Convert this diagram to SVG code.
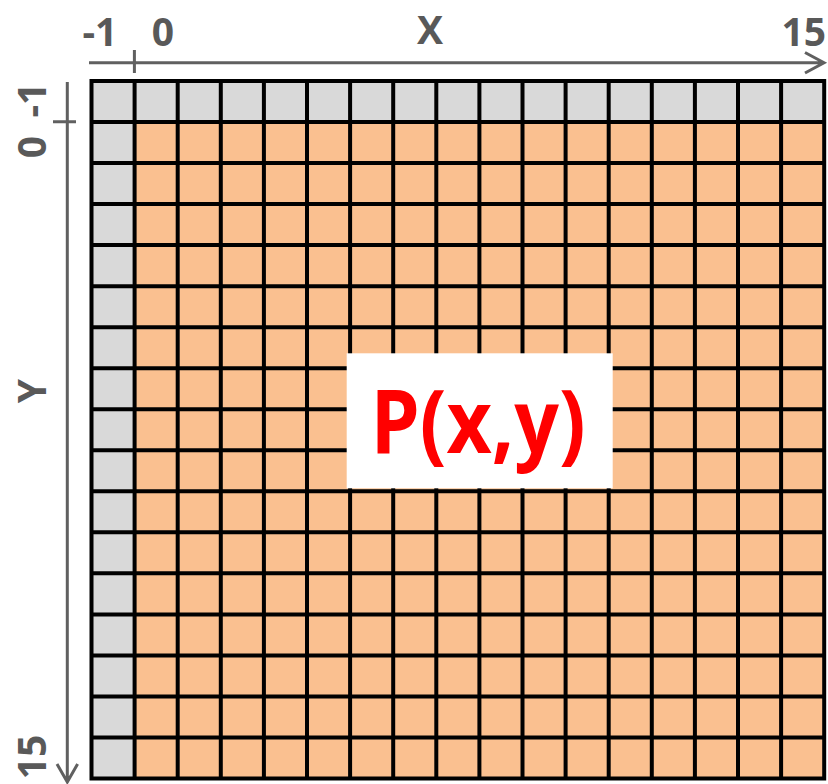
<svg xmlns="http://www.w3.org/2000/svg" width="828" height="784" viewBox="0 0 828 784">
<style>
.ax{stroke:#606060;stroke-width:3;fill:none}
.lbl{font-family:"Open Sans","Liberation Sans",sans-serif;font-weight:bold;font-size:39px;fill:#595959}
.grid{stroke:#000;stroke-width:4;fill:none;stroke-linecap:square}
</style>
<rect width="828" height="784" fill="#fff"/>
<g id="grid">
<rect x="91.5" y="81" width="732.7" height="697.5" fill="#d9d9d9"/>
<rect x="134.6" y="122.03" width="689.6" height="656.48" fill="#fac090"/>
<path class="grid" d="M91.5 81V778.5M134.6 81V778.5M177.7 81V778.5M220.8 81V778.5M263.9 81V778.5M307 81V778.5M350.1 81V778.5M393.2 81V778.5M436.3 81V778.5M479.4 81V778.5M522.5 81V778.5M565.6 81V778.5M608.7 81V778.5M651.8 81V778.5M694.9 81V778.5M738 81V778.5M781.1 81V778.5M824.2 81V778.5M91.5 81H824.2M91.5 122.03H824.2M91.5 163.06H824.2M91.5 204.09H824.2M91.5 245.12H824.2M91.5 286.15H824.2M91.5 327.18H824.2M91.5 368.21H824.2M91.5 409.24H824.2M91.5 450.27H824.2M91.5 491.3H824.2M91.5 532.33H824.2M91.5 573.36H824.2M91.5 614.39H824.2M91.5 655.42H824.2M91.5 696.45H824.2M91.5 737.48H824.2M91.5 778.5H824.2"/>
</g>
<g id="connectors">
<path class="ax" d="M89 62.7H824M805 52.5L824 62.7L805 73M134.4 50V73"/>
<path class="ax" d="M67.3 82V782M57 764L67.3 782L77.6 764M53 121.7H76"/>
</g>
<g id="x-labels">
<text class="lbl" x="100" y="45.5" text-anchor="middle" textLength="35" lengthAdjust="spacingAndGlyphs">-1</text>
<text class="lbl" x="163" y="45.5" text-anchor="middle">0</text>
<text class="lbl" x="430" y="43.5" text-anchor="middle">X</text>
<text class="lbl" x="826" y="45.5" text-anchor="end">15</text>
</g>
<g id="y-labels">
<text class="lbl" transform="translate(45.5 100) rotate(-90)" text-anchor="middle" textLength="35" lengthAdjust="spacingAndGlyphs">-1</text>
<text class="lbl" transform="translate(45.5 147) rotate(-90)" text-anchor="middle">0</text>
<text class="lbl" transform="translate(45.5 391) rotate(-90)" text-anchor="middle">Y</text>
<text class="lbl" transform="translate(45.5 757) rotate(-90)" text-anchor="middle">15</text>
</g>
<g id="point">
<rect x="346.7" y="353.3" width="266" height="135" fill="#fff"/>
<text x="478" y="453" text-anchor="middle" font-family="Open Sans, Liberation Sans, sans-serif" font-weight="bold" font-size="88" fill="#ff0000" textLength="215" lengthAdjust="spacingAndGlyphs">P(x,y)</text>
</g>
</svg>
